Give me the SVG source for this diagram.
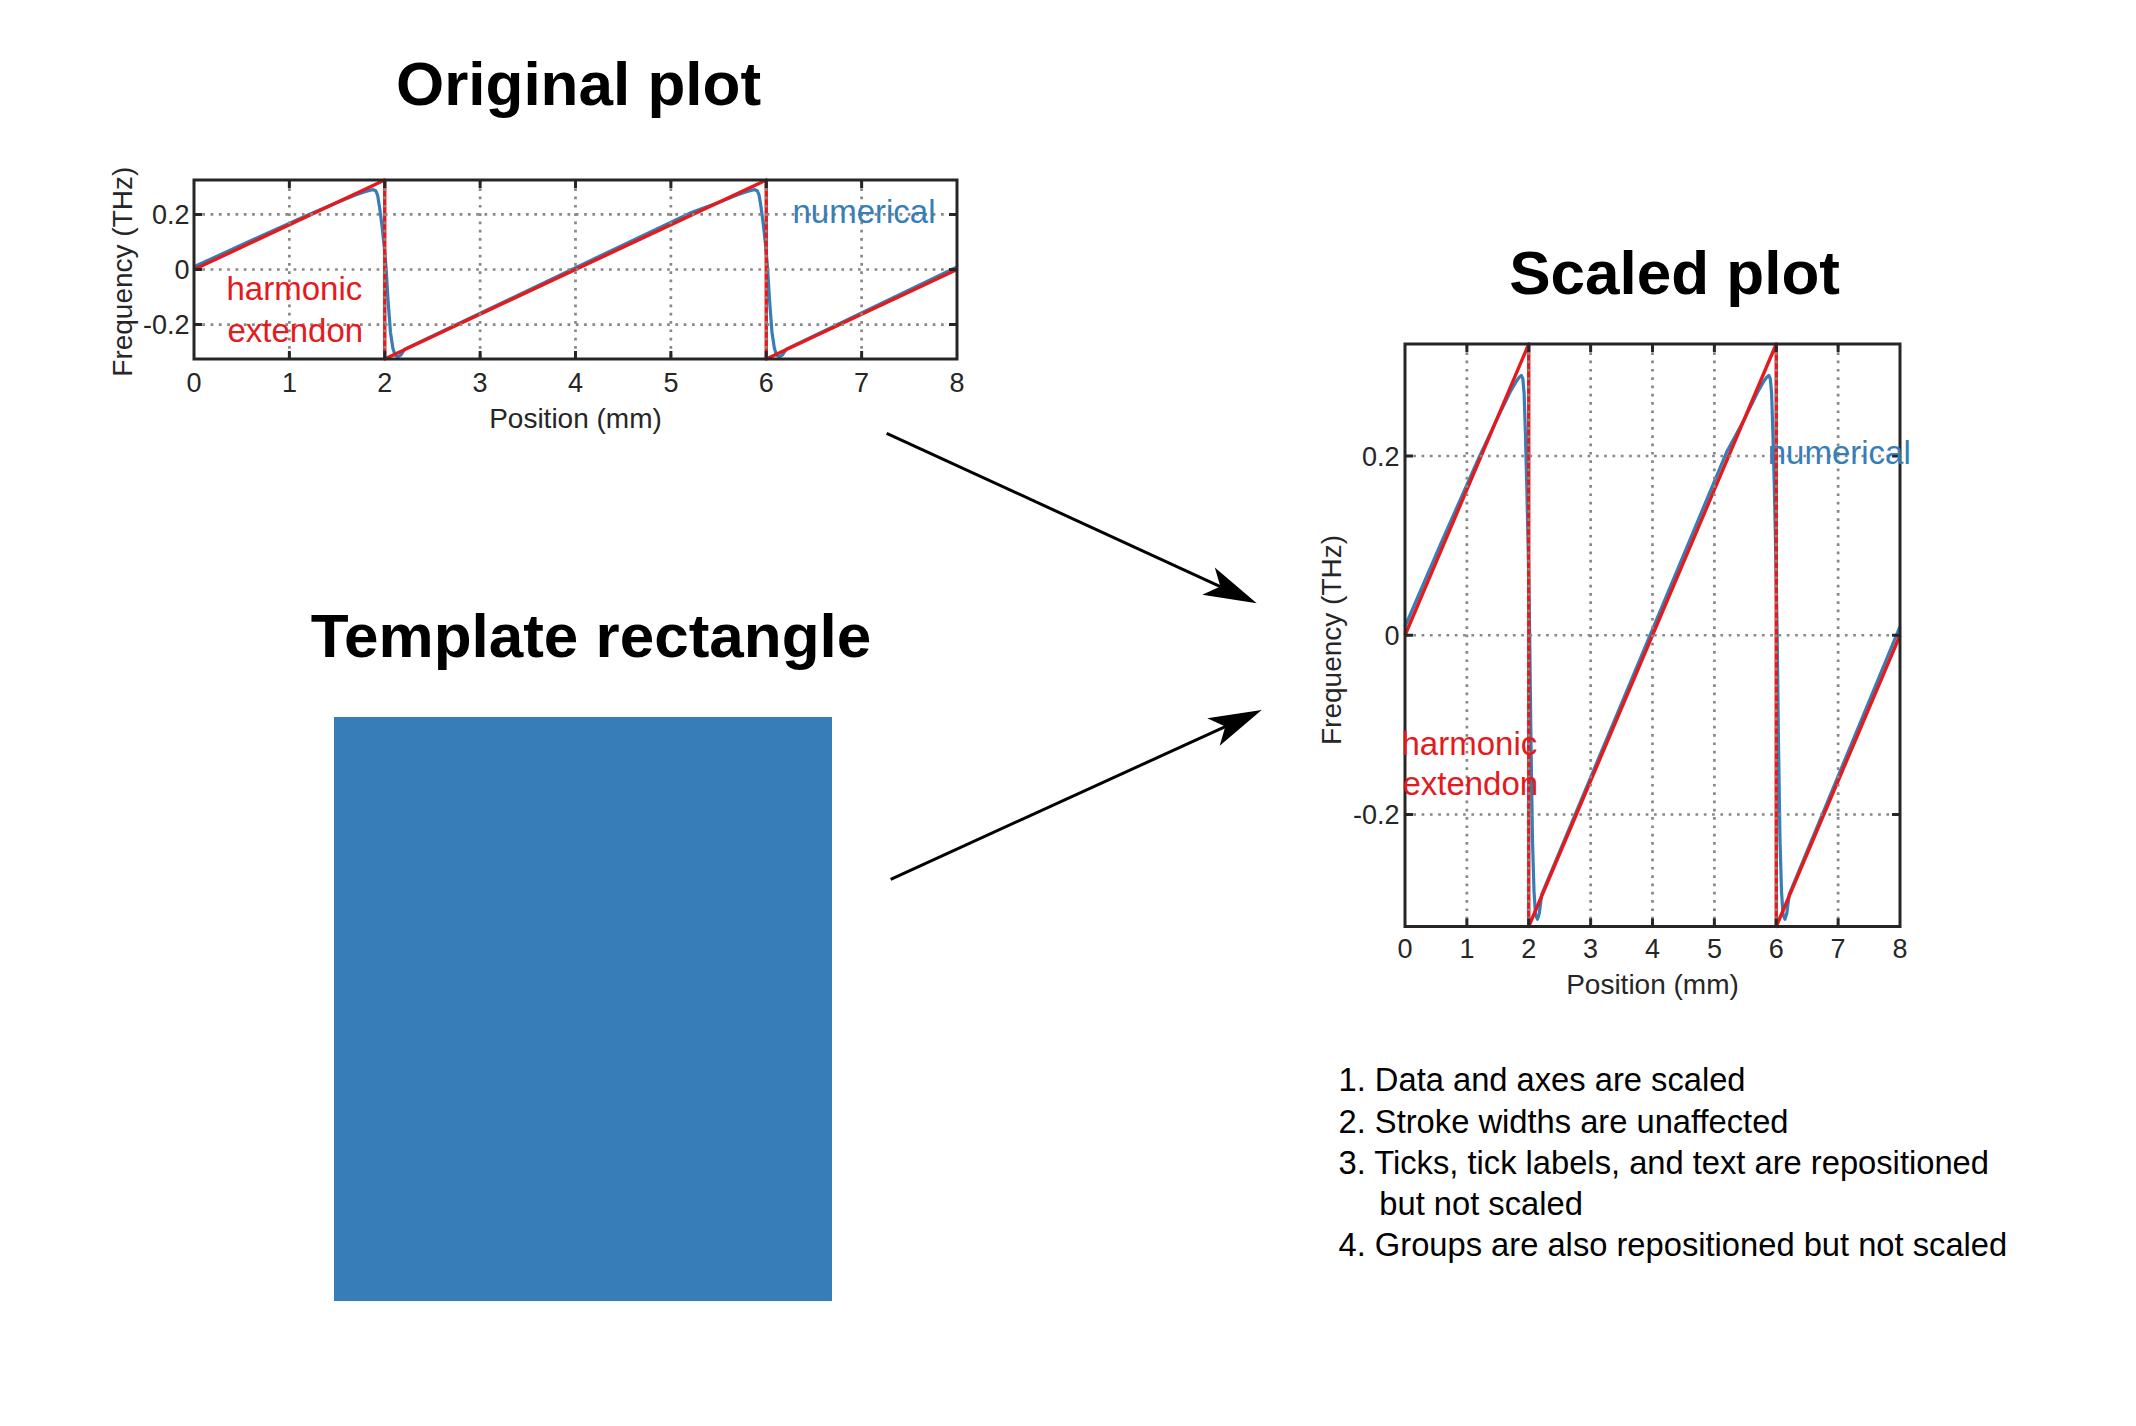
<svg xmlns="http://www.w3.org/2000/svg" width="2136" height="1426" viewBox="0 0 2136 1426">
<style>
text{font-family:"Liberation Sans",Arial,sans-serif}
.title{font-weight:bold;font-size:62px;fill:#000;text-anchor:middle}
.tick{font-size:27px;fill:#262626}
.tx{text-anchor:middle}
.ty{text-anchor:end}
.axlab{font-size:28px;fill:#262626;text-anchor:middle}
.num{font-size:33px;fill:#377eb8}
.harm{font-size:33px;fill:#e41a1c}
.list{font-size:32.7px;fill:#000}
.frame{fill:none;stroke:#262626;stroke-width:3}
.tk{stroke:#262626;stroke-width:3;fill:none}
.grid{stroke:#888888;stroke-width:2.7;stroke-dasharray:2.7 5.6;fill:none}
.red{fill:none;stroke:#e41a1c;stroke-width:3.4;stroke-linejoin:round}
.blue{fill:none;stroke:#377eb8;stroke-width:3.2;stroke-linejoin:round}
.conn{stroke:#000;stroke-width:3;fill:none}
</style>
<defs>
<marker id="ah" viewBox="-14 -16 56 32" refX="0" refY="0" markerWidth="56" markerHeight="32" markerUnits="userSpaceOnUse" orient="auto">
<path d="M0,0 L-13,-15 L40,0 L-13,15 Z" fill="#000"/>
</marker>
</defs>
<rect width="2136" height="1426" fill="#fff"/>

<g id="original-plot">
<text class="title" x="578.5" y="105">Original plot</text>
<path class="blue" d="M194,266.82 L251.23,240.41 L308.45,214.73 L337.06,202.55 L356.14,194.77 L365.68,191.46 L370.44,190.11 L373.31,189.67 L375.69,190.74 L377.6,195.22 L379.5,206.85 L381.89,224.75 L384.27,247.13 L386.18,269.5 L388.09,300.83 L390.47,332.15 L392.86,348.26 L395.24,355.42 L398.1,356.76 L400.96,354.97 L404.78,349.16 L689.95,213.11 L718.56,202.55 L737.64,194.77 L747.18,191.46 L751.94,190.11 L754.81,189.67 L757.19,190.74 L759.1,195.22 L761,206.85 L763.39,224.75 L765.77,247.13 L767.68,269.5 L769.59,300.83 L771.97,332.15 L774.36,348.26 L776.74,355.42 L779.6,356.76 L782.46,354.97 L786.28,349.16 L957,266.82"/>
<path class="red" d="M194,269.5 L384.75,180 L384.75,359 L766.25,180 L766.25,359 L957,269.5"/>
<g class="grid">
<path d="M289.375,180V359M384.75,180V359M480.125,180V359M575.5,180V359M670.875,180V359M766.25,180V359M861.625,180V359"/>
<path d="M194,214.42H957M194,269.5H957M194,324.58H957"/>
</g>
<rect class="frame" x="194" y="180" width="763" height="179"/>
<path class="tk" d="M289.375,180v8M384.75,180v8M480.125,180v8M575.5,180v8M670.875,180v8M766.25,180v8M861.625,180v8M289.375,359v-8M384.75,359v-8M480.125,359v-8M575.5,359v-8M670.875,359v-8M766.25,359v-8M861.625,359v-8M194,214.42h8M194,269.5h8M194,324.58h8M957,214.42h-8M957,269.5h-8M957,324.58h-8"/>
<g class="tick tx">
<text x="194" y="392">0</text><text x="289.4" y="392">1</text><text x="384.8" y="392">2</text><text x="480.1" y="392">3</text><text x="575.5" y="392">4</text><text x="670.9" y="392">5</text><text x="766.3" y="392">6</text><text x="861.6" y="392">7</text><text x="957" y="392">8</text>
</g>
<g class="tick ty">
<text x="189.5" y="224">0.2</text><text x="189.5" y="279">0</text><text x="189.5" y="334">-0.2</text>
</g>
<text class="axlab" x="575.5" y="428.3">Position (mm)</text>
<text class="axlab" transform="translate(132,271.7) rotate(-90)" x="0" y="0">Frequency (THz)</text>
<text class="num" x="792.5" y="223.3">numerical</text>
<text class="harm" x="226.5" y="300">harmonic</text>
<text class="harm" x="227.4" y="341.7">extendon</text>
</g>

<g id="template-rectangle">
<text class="title" x="591" y="656.7">Template rectangle</text>
<rect x="334" y="717" width="498" height="584" fill="#377eb8"/>
</g>

<g id="scaled-plot">
<text class="title" x="1674.6" y="293.8">Scaled plot</text>
<path class="blue" d="M1405,626.51 L1442.13,540.59 L1479.25,457 L1497.81,417.4 L1510.19,392.06 L1516.38,381.28 L1519.47,376.91 L1521.33,375.47 L1522.87,378.95 L1524.11,393.51 L1525.35,431.38 L1526.89,489.63 L1528.44,562.44 L1529.68,635.25 L1530.92,737.19 L1532.46,839.13 L1534.01,891.55 L1535.56,914.85 L1537.41,919.22 L1539.27,913.39 L1541.74,894.46 L1726.75,451.76 L1745.31,417.4 L1757.69,392.06 L1763.88,381.28 L1766.97,376.91 L1768.83,375.47 L1770.37,378.95 L1771.61,393.51 L1772.85,431.38 L1774.39,489.63 L1775.94,562.44 L1777.18,635.25 L1778.42,737.19 L1779.96,839.13 L1781.51,891.55 L1783.06,914.85 L1784.91,919.22 L1786.77,913.39 L1789.24,894.46 L1900,626.51"/>
<path class="red" d="M1405,635.25 L1528.75,344 L1528.75,926.5 L1776.25,344 L1776.25,926.5 L1900,635.25"/>
<g class="grid">
<path d="M1466.875,344V926.5M1528.75,344V926.5M1590.625,344V926.5M1652.5,344V926.5M1714.375,344V926.5M1776.25,344V926.5M1838.125,344V926.5"/>
<path d="M1405,456.02H1900M1405,635.25H1900M1405,814.48H1900"/>
</g>
<rect class="frame" x="1405" y="344" width="495" height="582.5"/>
<path class="tk" d="M1466.875,344v8M1528.75,344v8M1590.625,344v8M1652.5,344v8M1714.375,344v8M1776.25,344v8M1838.125,344v8M1466.875,926.5v-8M1528.75,926.5v-8M1590.625,926.5v-8M1652.5,926.5v-8M1714.375,926.5v-8M1776.25,926.5v-8M1838.125,926.5v-8M1405,456.02h8M1405,635.25h8M1405,814.48h8M1900,456.02h-8M1900,635.25h-8M1900,814.48h-8"/>
<g class="tick tx">
<text x="1405" y="958">0</text><text x="1466.9" y="958">1</text><text x="1528.8" y="958">2</text><text x="1590.6" y="958">3</text><text x="1652.5" y="958">4</text><text x="1714.4" y="958">5</text><text x="1776.3" y="958">6</text><text x="1838.1" y="958">7</text><text x="1900" y="958">8</text>
</g>
<g class="tick ty">
<text x="1399.5" y="465.5">0.2</text><text x="1399.5" y="645">0</text><text x="1399.5" y="824">-0.2</text>
</g>
<text class="axlab" x="1652.5" y="994">Position (mm)</text>
<text class="axlab" transform="translate(1341.2,640) rotate(-90)" x="0" y="0">Frequency (THz)</text>
<text class="num" x="1767.7" y="463.7">numerical</text>
<text class="harm" x="1401.5" y="754.5">harmonic</text>
<text class="harm" x="1402.4" y="795.3">extendon</text>
</g>

<g id="notes">
<text class="list" x="1338.5" y="1091">1. Data and axes are scaled</text>
<text class="list" x="1338.5" y="1132.5">2. Stroke widths are unaffected</text>
<text class="list" x="1338.5" y="1174">3. Ticks, tick labels, and text are repositioned</text>
<text class="list" x="1379.3" y="1214.5">but not scaled</text>
<text class="list" x="1338.5" y="1256">4. Groups are also repositioned but not scaled</text>
</g>

<g id="connectors">
<line class="conn" x1="886.7" y1="433.3" x2="1220.35" y2="586.6" marker-end="url(#ah)"/>
<line class="conn" x1="890.7" y1="879.3" x2="1225.3" y2="726.6" marker-end="url(#ah)"/>
</g>
</svg>
